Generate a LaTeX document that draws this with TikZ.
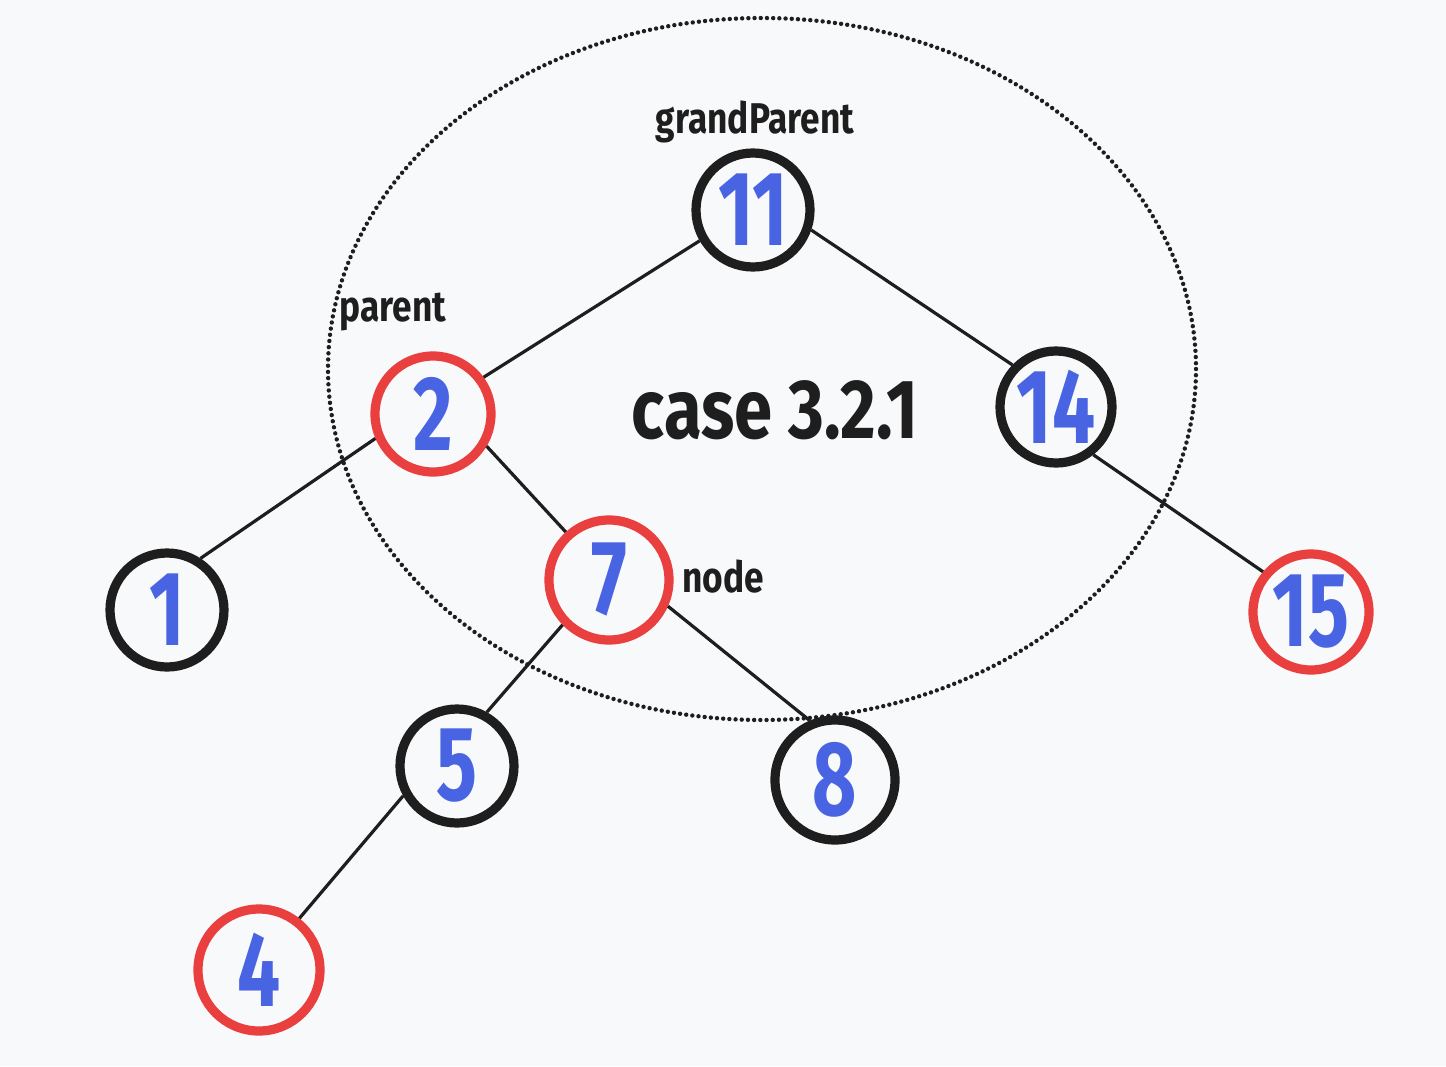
\documentclass[tikz,border=0pt]{standalone}
\usepackage{fontspec}
\newfontfamily\hand[FakeStretch=0.82]{Fira Sans}
\newfontfamily\handnum[FakeStretch=0.72]{Fira Sans}
\definecolor{bg}{HTML}{F8F9FA}
\definecolor{ink}{HTML}{1E1E1E}
\definecolor{nred}{HTML}{E9403F}
\definecolor{nblue}{HTML}{4864E2}
\begin{document}
\begin{tikzpicture}[x=0.5pt,y=-0.5pt,
  tnode/.style={circle,draw=ink,line width=4.6pt,minimum size=#1,inner sep=0pt,
    font=\handnum\bfseries\fontsize{53}{53}\selectfont,text=nblue},
  tnode/.default=57pt,
  rnode/.style={tnode=#1,draw=nred},
  rnode/.default=58pt,
  edge/.style={draw=ink,line width=1.6pt},
  lbl/.style={font=\hand\bfseries\fontsize{21.5}{21.5}\selectfont,text=ink,inner sep=0pt}]
\fill[bg] (0,0) rectangle (1446,1066);
\useasboundingbox (0,0) rectangle (1446,1066);
\draw[ink,line width=2.2pt,dash pattern=on 0pt off 3.1pt,line cap=round] (762,369) ellipse [x radius=434,y radius=351];
\node[tnode] (n11) at (753,210) {11};
\node[rnode] (n2) at (433,414) {2};
\node[tnode=56pt] (n14) at (1056,407) {14};
\node[tnode] (n1) at (167,610) {1};
\node[rnode=60pt] (n7) at (609,580) {7};
\node[rnode] (n15) at (1311,612) {15};
\node[tnode] (n5) at (457,766) {5};
\node[tnode=60pt] (n8) at (835,780) {8};
\node[rnode=61pt] (n4) at (259,970) {4};
\draw[edge] (n11.210) -- (n2.36);
\draw[edge] (n11.-19) -- (n14.136);
\draw[edge] (n2.203) -- (n1.57);
\draw[edge] (n2.-31) -- (n7.132);
\draw[edge] (n14.-52) -- (n15.140);
\draw[edge] (n7.224) -- (n5.61);
\draw[edge] (n7.-24) -- (n8.113);
\draw[edge] (n5.209) -- (n4.52);
\node[lbl] (lgp) at (755,122) {grandParent};
\node[lbl] (lp) at (393,312) {parent};
\node[lbl] (ln) at (723,577) {node};
\node[lbl,font=\hand\bfseries\fontsize{42}{42}\selectfont] (lcase) at (775,410) {case 3.2.1};
\end{tikzpicture}
\end{document}
